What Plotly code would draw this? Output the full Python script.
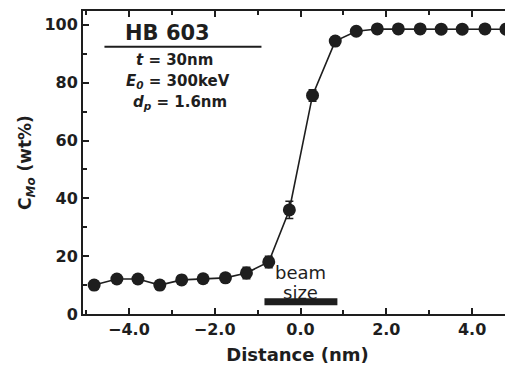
import plotly.graph_objects as go

distance = [-4.81, -4.28, -3.79, -3.28, -2.77, -2.27, -1.75, -1.26, -0.74, -0.26,
            0.28, 0.81, 1.30, 1.79, 2.28, 2.79, 3.28, 3.77, 4.30, 4.79]
c_mo = [10.0, 12.1, 12.1, 10.0, 11.8, 12.2, 12.5, 14.2, 18.0, 36.0,
        75.6, 94.4, 97.8, 98.6, 98.6, 98.6, 98.5, 98.5, 98.6, 98.5]
c_err = [1.5, 1.5, 1.5, 1.5, 1.5, 1.5, 1.5, 2.0, 2.0, 3.0,
         2.0, 1.5, 1.0, 1.0, 1.0, 1.0, 1.0, 1.0, 1.0, 1.0]
beam_x = [-0.84, 0.86]
beam_y = [4.2, 4.2]

INK = "#1e1e1e"
FONT = "DejaVu Sans"

fig = go.Figure()
fig.add_trace(go.Scatter(
    x=distance, y=c_mo, mode="lines+markers",
    line=dict(color=INK, width=1.6),
    marker=dict(symbol="circle", size=13, color=INK),
    error_y=dict(type="data", array=c_err, color=INK, thickness=1.5, width=4),
    showlegend=False, cliponaxis=False,
))
fig.add_trace(go.Scatter(
    x=beam_x, y=beam_y, mode="lines",
    line=dict(color=INK, width=7), showlegend=False,
))

axis_common = dict(
    showline=True, linecolor=INK, linewidth=2, mirror="ticks",
    ticks="inside", ticklen=6, tickwidth=1.5, tickcolor=INK,
    showgrid=False, zeroline=False, automargin=False,
    tickfont=dict(family=FONT, size=16, color=INK, weight="bold"),
)
fig.update_xaxes(**axis_common, range=[-5.07, 4.93], tick0=0, dtick=2, tickformat=".1f",
                 minor=dict(dtick=1, ticks="inside", ticklen=4, tickcolor=INK),
                 title=dict(text="Distance (nm)", standoff=10,
                            font=dict(family=FONT, size=18, color=INK, weight="bold")))
fig.update_yaxes(**axis_common, range=[0, 104.8], tick0=0, dtick=20,
                 minor=dict(dtick=10, ticks="inside", ticklen=4, tickcolor=INK),
                 title=dict(text="C<sub><i>Mo</i></sub> (wt%)", standoff=8,
                            font=dict(family=FONT, size=17, color=INK, weight="bold")))

ann_font = dict(family=FONT, size=15, color=INK, weight="bold")
fig.add_annotation(x=-3.09, y=97.2, text="HB 603", showarrow=False,
                   font=dict(family=FONT, size=21, color=INK, weight="bold"))
fig.add_shape(type="line", x0=-4.57, x1=-0.91, y0=92.4, y1=92.4,
              line=dict(color=INK, width=2))
fig.add_annotation(x=-2.93, y=87.9, text="<i>t</i> = 30nm", showarrow=False, font=ann_font)
fig.add_annotation(x=-2.86, y=80.3, text="<i>E<sub>0</sub></i> = 300keV", showarrow=False, font=ann_font)
fig.add_annotation(x=-2.81, y=73.0, text="<i>d<sub>p</sub></i> = 1.6nm", showarrow=False, font=ann_font)
fig.add_annotation(x=0.0, y=14.5, text="beam", showarrow=False,
                   font=dict(family=FONT, size=18, color=INK))
fig.add_annotation(x=0.0, y=7.6, text="size", showarrow=False,
                   font=dict(family=FONT, size=18, color=INK))

# page body adds an 8px margin, so the figure is sized to fit the 513x372 window
fig.update_layout(
    width=505, height=364,
    margin=dict(l=75, r=1, t=3, b=58),
    paper_bgcolor="white", plot_bgcolor="white",
)
fig.write_html("out.html")
